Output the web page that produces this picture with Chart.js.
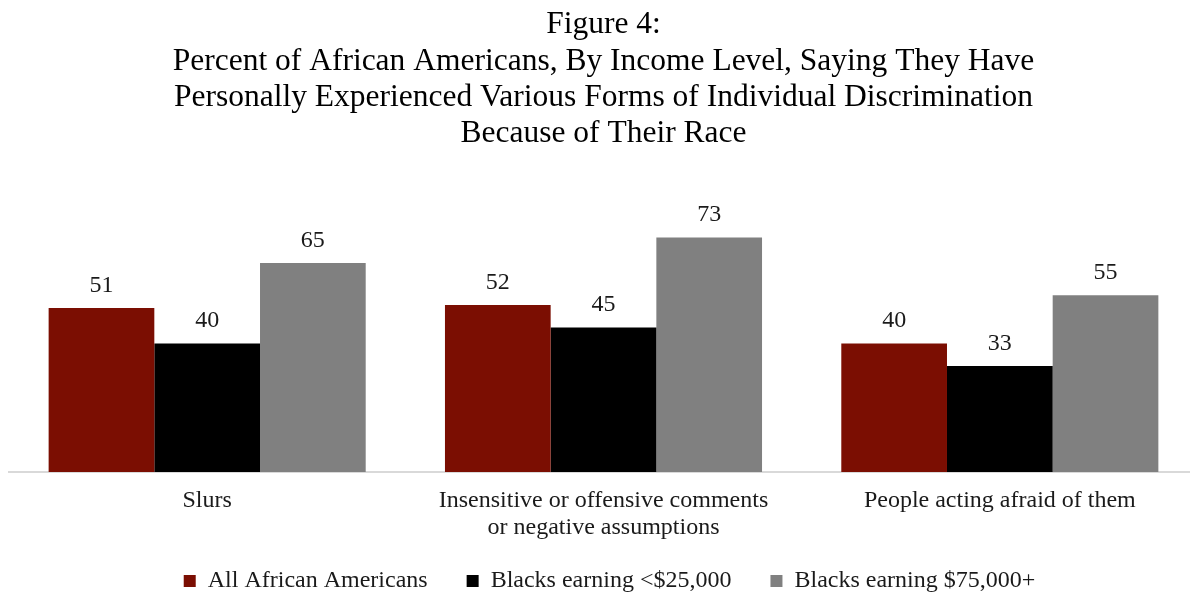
<!DOCTYPE html>
<html>
<head>
<meta charset="utf-8">
<script src="https://cdn.jsdelivr.net/npm/chart.js@4"></script>
<style>
  html, body { margin: 0; padding: 0; background: #ffffff; overflow: hidden; }
  #wrap { width: 1200px; height: 592px; }
</style>
</head>
<body>
<div id="wrap"><canvas id="chart" width="1200" height="592"></canvas></div>
<script>
// Survey categories (x axis)
const categories = [
  'Slurs',
  ['Insensitive or offensive comments', 'or negative assumptions'],
  'People acting afraid of them'
];

// Percent reporting each experience, by group
const allAfricanAmericans = [51, 52, 40];
const earningUnder25k = [40, 45, 33];
const earning75kPlus = [65, 73, 55];

const seriesNames = ['All African Americans', 'Blacks earning <$25,000', 'Blacks earning $75,000+'];

const titleLines = [
  'Figure 4:',
  'Percent of African Americans, By Income Level, Saying They Have',
  'Personally Experienced Various Forms of Individual Discrimination',
  'Because of Their Race'
];

const SERIF = '"Liberation Serif", "Times New Roman", serif';

// Writes each bar's value just above it
const valueLabels = {
  id: 'valueLabels',
  afterDatasetsDraw(chart) {
    const ctx = chart.ctx;
    ctx.save();
    ctx.font = '24px ' + SERIF;
    ctx.fillStyle = '#1a1a1a';
    ctx.textAlign = 'center';
    ctx.textBaseline = 'alphabetic';
    chart.data.datasets.forEach((ds, i) => {
      const meta = chart.getDatasetMeta(i);
      meta.data.forEach((bar, j) => {
        ctx.fillText(String(ds.data[j]), bar.x, bar.y - 16);
      });
    });
    ctx.restore();
  }
};

// Lets the two-line category label run below the axis box,
// and nudges the legend row slightly to the right
const layoutTweaks = {
  id: 'layoutTweaks',
  afterLayout(chart) {
    chart.scales.x.bottom += 40;
    chart.legend.left += 6;
    chart.legend.right += 6;
  }
};

new Chart(document.getElementById('chart'), {
  type: 'bar',
  data: {
    labels: categories,
    datasets: [
      { label: seriesNames[0], data: allAfricanAmericans, backgroundColor: '#7B0E02' },
      { label: seriesNames[1], data: earningUnder25k, backgroundColor: '#000000' },
      { label: seriesNames[2], data: earning75kPlus, backgroundColor: '#808080' }
    ]
  },
  options: {
    responsive: false,
    animation: false,
    devicePixelRatio: 1,
    layout: { padding: { left: 9, right: 2, top: 0, bottom: 0 } },
    datasets: {
      bar: { categoryPercentage: 0.8, barPercentage: 1.0, borderWidth: 0 }
    },
    plugins: {
      title: {
        display: true,
        text: titleLines,
        color: '#000000',
        font: { family: SERIF, size: 31.5, weight: 'normal', lineHeight: 1.15 },
        padding: { top: 7, bottom: 63 }
      },
      legend: {
        display: true,
        position: 'bottom',
        maxHeight: 62,
        labels: {
          color: '#1a1a1a',
          font: { family: SERIF, size: 24 },
          boxWidth: 12,
          boxHeight: 12,
          padding: 39
        }
      },
      tooltip: { enabled: false }
    },
    scales: {
      x: {
        grid: { display: false },
        border: { display: true, color: '#d9d9d9', width: 2 },
        ticks: {
          color: '#1a1a1a',
          font: { family: SERIF, size: 24, lineHeight: 1.1 },
          padding: 8,
          maxRotation: 0
        },
        afterFit(scale) { scale.height = 58; }
      },
      y: {
        display: false,
        min: 0,
        max: 80
      }
    }
  },
  plugins: [valueLabels, layoutTweaks]
});
</script>
</body>
</html>
